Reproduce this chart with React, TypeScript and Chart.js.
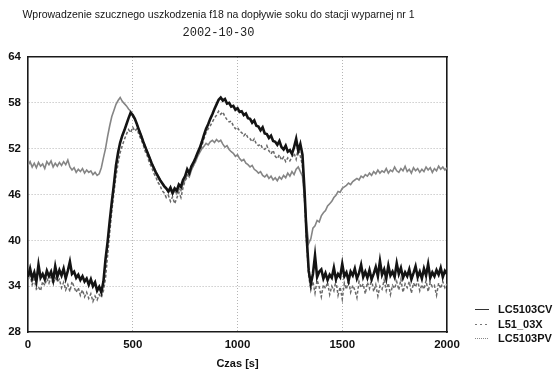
import { useEffect, useRef } from "react";
import { Chart, registerables } from "chart.js";

Chart.register(...registerables);

const TITLE = "Wprowadzenie szucznego uszkodzenia f18 na dopływie soku do stacji wyparnej nr 1";
const SUBTITLE = "2002-10-30";
const X_TITLE = "Czas [s]";
const SAMPLE_STEP_S = 10;
const X_TICKS = [0, 500, 1000, 1500, 2000];
const Y_TICKS = [28, 34, 40, 46, 52, 58, 64];
const SERIES_NAMES = ["LC5103CV", "L51_03X", "LC5103PV"];

const LC5103CV = [
  35.2, 36.3, 35.0, 35.8, 34.6, 36.8, 35.1, 35.6, 34.9, 36.0,
  35.3, 35.9, 34.8, 36.6, 35.2, 36.1, 35.4, 36.3, 35.0, 36.0,
  37.2, 35.6, 35.9, 35.1, 35.5, 34.8, 35.3, 34.6, 35.0, 34.2,
  34.9, 34.0, 34.5, 33.4, 33.9, 33.2, 34.6, 37.5, 39.8, 42.5,
  45.0, 47.3, 49.8, 51.5, 52.8, 53.7, 54.4, 55.2, 56.0, 56.7,
  56.4, 55.9, 55.2, 54.4, 53.7, 52.9, 52.2, 51.5, 50.8, 50.1,
  49.5, 48.9, 48.4, 47.9, 47.5, 47.1, 46.8, 46.4, 46.9, 46.2,
  46.8, 46.5, 47.3, 47.0, 47.9, 48.4, 49.3, 48.8, 49.7, 50.2,
  50.8, 51.5, 52.1, 52.9, 53.8, 54.6, 55.2, 55.9, 56.5, 57.2,
  57.8, 58.4, 58.7, 58.3, 58.5, 57.9, 58.0, 57.5, 57.6, 57.1,
  57.3, 56.8, 56.9, 56.4, 56.6, 56.0, 55.9, 55.4, 55.7, 55.0,
  54.9, 54.4, 54.8, 54.0, 53.9, 53.4, 53.7, 53.0, 52.9, 52.5,
  53.0, 52.2, 51.9, 52.4, 51.6, 51.8, 51.3, 52.2, 53.3, 51.7,
  52.6, 51.2, 46.5, 40.5, 36.0, 34.3, 35.6, 38.0, 35.2, 35.9,
  36.2, 35.0, 35.7, 34.8, 35.5, 35.1, 36.4, 34.9, 35.6, 35.2,
  36.9, 35.3, 35.8, 34.7, 35.9, 35.4, 36.3, 35.0, 35.7, 36.8,
  35.2, 35.9, 35.1, 36.1, 34.9, 35.6, 36.5, 35.3, 37.3, 35.5,
  36.2, 35.0, 36.7, 35.4, 35.9, 35.2, 37.0, 35.6, 36.4, 35.1,
  35.8, 35.3, 36.2, 34.9, 35.7, 36.6, 35.2, 35.9, 35.0, 36.3,
  35.4, 36.9, 35.1, 35.8, 35.3, 36.1, 35.5, 36.4, 35.2, 36.0,
  35.6,
];

const L51_03X = [
  34.8, 35.5, 34.2, 34.9, 33.6, 33.9, 33.4, 34.6, 34.1, 35.0,
  34.4, 35.2, 34.3, 35.1, 34.6, 34.9, 33.8, 34.5, 33.5, 34.2,
  33.3, 34.6, 33.9, 33.2, 33.8, 32.8, 33.5, 32.6, 33.2, 32.4,
  33.0, 32.0, 32.7, 32.2, 32.9, 32.5, 33.4, 35.0, 38.0, 41.0,
  43.8, 46.2, 48.4, 50.1, 51.5, 52.4, 53.2, 53.9, 54.5, 54.1,
  54.8, 54.3, 54.6, 53.8, 53.2, 52.5, 51.6, 51.0, 50.1, 49.6,
  48.8, 48.3, 47.6, 47.2, 46.5, 46.2, 45.6, 45.9, 45.1, 45.7,
  44.8, 45.5, 46.3, 45.6, 46.9, 47.8, 48.3, 48.9, 49.4, 49.8,
  50.6, 51.2, 51.7, 52.4, 53.3, 54.1, 54.6, 55.0, 55.5, 56.0,
  56.4, 56.9, 56.5, 56.8, 56.2, 55.8, 55.5, 55.6, 55.0, 54.6,
  54.8, 54.3, 54.1, 53.7, 54.0, 53.4, 53.3, 52.9, 53.3, 52.6,
  52.4, 52.6, 52.0, 51.9, 52.4, 51.7, 51.3, 51.8, 51.0, 50.7,
  51.2, 50.5, 50.9, 50.3, 50.8, 50.4, 50.9, 51.4, 50.6, 52.1,
  51.0, 49.8, 45.2, 39.5, 35.3, 33.5, 34.6, 33.1, 34.8, 33.9,
  32.6, 34.2, 33.7, 34.5, 32.9, 34.0, 33.4, 34.7, 32.8, 33.9,
  32.3, 34.4, 33.6, 34.8, 33.2, 34.1, 33.5, 32.5, 34.6, 33.8,
  34.3, 33.0, 34.5, 33.7, 34.9, 33.3, 34.2, 32.7, 34.0, 33.6,
  34.8, 33.4, 34.4, 32.9, 34.1, 33.7, 34.6, 33.5, 34.9, 33.2,
  34.3, 33.8, 34.6, 33.1, 34.4, 33.9, 34.8, 33.4, 34.2, 33.6,
  34.7, 33.3, 34.5, 33.9, 34.1, 32.8, 34.4, 33.7, 34.6, 33.8,
  34.3,
];

const LC5103PV = [
  49.8, 50.3, 49.6, 50.1, 49.5, 50.2, 49.7, 50.0, 49.4, 50.3,
  49.9, 50.4, 49.6, 50.1, 49.7, 50.2, 49.8, 50.3, 49.9, 50.5,
  49.6, 49.2, 49.5, 48.9, 49.3, 49.0, 49.4, 48.8, 49.2, 48.9,
  49.1, 48.6, 48.9, 48.5, 48.7, 49.5, 50.8, 52.0, 53.6, 55.0,
  56.2, 57.0, 57.8, 58.3, 58.7, 58.2, 57.9, 57.6, 57.2, 56.9,
  56.4, 55.9, 55.2, 54.5, 53.8, 53.0, 52.3, 51.6, 50.9, 50.2,
  49.6, 49.0, 48.5, 48.0, 47.5, 47.0, 46.7, 46.3, 46.6, 46.0,
  46.5, 46.1, 46.8, 46.5, 47.4, 47.9, 48.6, 48.3, 49.2, 49.8,
  50.3, 51.0, 51.5, 52.0, 52.3, 52.7, 52.5, 52.9, 53.1, 52.8,
  53.2, 52.9, 53.1, 52.6, 52.2, 52.4, 51.9, 51.6, 51.4, 51.0,
  51.2, 50.7, 50.4, 50.6, 50.1, 49.9, 49.6, 49.8, 49.3, 49.1,
  48.8, 49.0, 48.5, 48.3, 48.6, 48.1, 48.4, 47.9, 48.2, 47.8,
  48.3, 48.0, 48.5, 48.2, 48.8, 48.4, 49.0, 48.6, 49.3, 49.6,
  49.0, 48.4, 45.5, 42.0, 39.6, 40.2, 41.6, 41.9, 42.6, 42.4,
  43.2, 43.6, 43.9, 44.5, 44.8, 45.1, 45.6, 45.9, 46.4, 46.3,
  46.8, 47.0, 47.2, 47.5, 47.3, 47.7, 47.9, 48.1, 47.9, 48.4,
  48.2, 48.6, 48.4, 48.8, 48.5, 49.0, 48.7, 49.2, 48.8, 49.1,
  48.9, 49.4, 48.8, 49.2, 49.0, 49.6, 49.1, 48.9, 49.4, 49.1,
  49.7, 49.0, 49.3, 48.8, 49.5, 49.1, 49.4, 48.9, 49.3, 49.0,
  49.6, 49.2, 49.5, 48.9, 49.4, 49.1, 49.7, 49.3, 49.6, 49.2,
  49.5,
];

const FONT = "'Liberation Sans', Arial, sans-serif";

const toPoints = (values: number[]) =>
  values.map((v, i) => ({ x: i * SAMPLE_STEP_S, y: v }));

const cornerLegend = {
  id: "cornerLegend",
  afterDraw(chart: any) {
    const { ctx, chartArea } = chart;
    ctx.save();
    ctx.font = `bold 11px ${FONT}`;
    ctx.textBaseline = "middle";
    ctx.textAlign = "left";
    chart.data.datasets.forEach((ds: any, i: number) => {
      const y = Math.round(chartArea.bottom - 23 + i * 14.5) + 0.5;
      const x0 = chartArea.right + 28;
      ctx.strokeStyle = ds.legendColor;
      ctx.lineWidth = 1;
      ctx.setLineDash(ds.legendDash);
      ctx.beginPath();
      ctx.moveTo(x0, y);
      ctx.lineTo(x0 + 14, y);
      ctx.stroke();
      ctx.setLineDash([]);
      ctx.fillStyle = "#111";
      ctx.fillText(ds.label, x0 + 23, y);
    });
    ctx.restore();
  },
};

export default function App() {
  const ref = useRef<HTMLCanvasElement | null>(null);

  useEffect(() => {
    if (!ref.current) return;
    const gridColor = (edgeValues: number[]) => (c: any) =>
      c.tick && edgeValues.includes(c.tick.value) ? "rgba(0,0,0,0)" : "#b5b5b5";

    const chart = new Chart(ref.current, {
      type: "line",
      data: {
        datasets: [
          {
            label: SERIES_NAMES[0],
            data: toPoints(LC5103CV),
            borderColor: "#141414",
            borderWidth: 2.6,
            legendColor: "#333",
            legendDash: [],
            xAxisID: "x",
            yAxisID: "y",
          } as any,
          {
            label: SERIES_NAMES[1],
            data: toPoints(L51_03X),
            borderColor: "#6a6a6a",
            borderWidth: 1.5,
            borderDash: [3, 2],
            legendColor: "#777",
            legendDash: [2, 3],
            xAxisID: "x",
            yAxisID: "y",
          } as any,
          {
            label: SERIES_NAMES[2],
            data: toPoints(LC5103PV),
            borderColor: "#858585",
            borderWidth: 1.6,
            legendColor: "#888",
            legendDash: [1, 1],
            xAxisID: "x",
            yAxisID: "y",
          } as any,
        ],
      },
      options: {
        animation: false,
        responsive: false,
        maintainAspectRatio: false,
        events: [],
        layout: { padding: { left: -10, right: 111, top: 0, bottom: 0 } },
        elements: { point: { radius: 0 }, line: { tension: 0 } },
        plugins: {
          legend: { display: false },
          tooltip: { enabled: false },
          title: {
            display: true,
            text: TITLE,
            color: "#151515",
            font: { family: FONT, size: 10.5, weight: "normal" },
            padding: { top: 9, bottom: 2 },
          },
          subtitle: {
            display: true,
            text: SUBTITLE,
            color: "#222",
            font: { family: "'Liberation Mono', 'Courier New', monospace", size: 12, weight: "normal" },
            padding: { top: 2, bottom: 17 },
          },
        },
        scales: {
          x: {
            type: "linear",
            position: "bottom",
            min: 0,
            max: 2000,
            afterBuildTicks: (s: any) => {
              s.ticks = X_TICKS.map((v) => ({ value: v }));
            },
            ticks: {
              color: "#111",
              padding: 6,
              maxRotation: 0,
              callback: (v: any) => String(v),
              font: { family: FONT, size: 11.5, weight: "bold" },
            },
            grid: { color: gridColor([0, 2000]), lineWidth: 1, drawTicks: false },
            border: { display: true, color: "#1a1a1a", width: 1.6, dash: [1, 2] },
            title: {
              display: true,
              text: X_TITLE,
              color: "#111",
              font: { family: FONT, size: 11, weight: "bold" },
              padding: { top: 0, bottom: 0 },
            },
          },
          y: {
            type: "linear",
            position: "left",
            min: 28,
            max: 64,
            afterBuildTicks: (s: any) => {
              s.ticks = Y_TICKS.map((v) => ({ value: v }));
            },
            afterFit: (s: any) => {
              s.width = 38;
            },
            ticks: {
              color: "#111",
              padding: 7,
              callback: (v: any) => String(v),
              font: { family: FONT, size: 11.5, weight: "bold" },
            },
            grid: { color: gridColor([28, 64]), lineWidth: 1, drawTicks: false },
            border: { display: true, color: "#1a1a1a", width: 1.6, dash: [1, 2] },
          },
          xTop: {
            type: "linear",
            position: "top",
            display: true,
            ticks: { display: false },
            grid: { display: false, drawTicks: false },
            border: { display: true, color: "#1a1a1a", width: 1.6 },
          },
          yRight: {
            type: "linear",
            position: "right",
            display: true,
            ticks: { display: false },
            grid: { display: false, drawTicks: false },
            border: { display: true, color: "#1a1a1a", width: 1.6 },
          },
        },
      } as any,
      plugins: [cornerLegend],
    });
    return () => chart.destroy();
  }, []);

  return (
    <div style={{ position: "fixed", left: 0, top: 0, width: 558, height: 371, background: "#fff" }}>
      <canvas ref={ref} width={558} height={371} style={{ display: "block" }} />
    </div>
  );
}
